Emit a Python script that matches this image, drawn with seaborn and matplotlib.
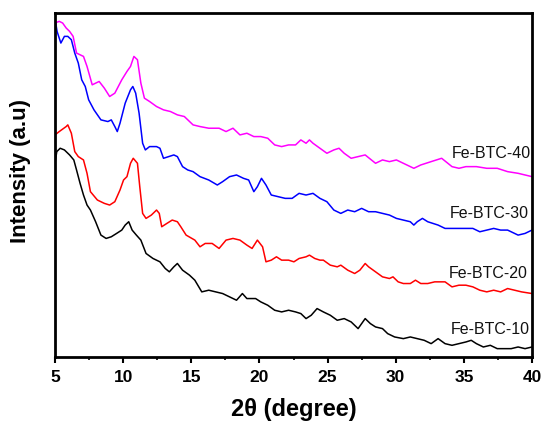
import matplotlib
matplotlib.use("Agg")
import matplotlib.pyplot as plt
import seaborn as sns
import pandas as pd
from matplotlib.ticker import MultipleLocator

# ---- data (arbitrary intensity units) ----
x40 = [5.00, 5.31, 5.56, 5.82, 6.07, 6.33, 6.58, 7.09, 7.35, 7.73, 8.24, 8.62, 9.01, 9.39, 9.90,
       10.28, 10.54, 10.79, 11.05, 11.30, 11.56, 11.94, 12.45, 12.96, 13.47, 13.98, 14.49, 15.13,
       15.64, 16.28, 17.04, 17.55, 18.06, 18.57, 19.08, 19.59, 20.10, 20.61, 21.12, 21.63, 22.14,
       22.65, 23.04, 23.42, 23.67, 23.93, 24.44, 24.95, 25.46, 25.84, 26.22, 26.73, 27.24, 27.76,
       28.52, 29.03, 29.54, 30.05, 30.56, 31.33, 31.84, 32.60, 33.37, 34.13, 34.64, 35.15, 35.92,
       36.68, 37.45, 38.21, 38.98, 40.00]
y40 = [1000, 1005, 1000, 985, 975, 960, 910, 900, 870, 815, 825, 805, 780, 790, 830,
       855, 870, 900, 890, 820, 775, 765, 750, 740, 735, 725, 720, 695,
       690, 685, 685, 675, 685, 665, 670, 660, 660, 655, 635, 630, 635,
       635, 650, 640, 650, 640, 625, 610, 620, 625, 610, 595, 600, 605,
       580, 590, 585, 590, 580, 565, 575, 585, 595, 570, 565, 570, 570,
       565, 565, 555, 550, 540]

x30 = [5.00, 5.15, 5.43, 5.69, 5.94, 6.20, 6.45, 6.71, 6.96, 7.22, 7.47, 7.86, 8.37, 8.88, 9.13,
       9.39, 9.57, 9.77, 10.15, 10.54, 10.71, 10.92, 11.17, 11.43, 11.63, 11.94, 12.45, 12.70,
       12.96, 13.34, 13.72, 13.98, 14.36, 14.74, 15.13, 15.64, 16.28, 16.91, 17.30, 17.81, 18.32,
       18.83, 19.21, 19.59, 19.85, 20.15, 20.48, 20.87, 21.38, 21.89, 22.40, 22.91, 23.42, 23.93,
       24.44, 24.95, 25.46, 25.97, 26.48, 26.99, 27.50, 28.01, 28.52, 29.03, 29.54, 30.05, 30.56,
       31.07, 31.33, 31.58, 31.96, 32.35, 33.11, 33.62, 34.13, 34.90, 35.66, 36.17, 36.68, 37.19,
       37.70, 38.21, 38.98, 39.49, 40.00]
y30 = [1015, 975, 940, 960, 960, 950, 910, 880, 830, 810, 770, 740, 710, 705, 710,
       690, 675, 700, 760, 800, 810, 790, 730, 640, 620, 630, 630, 625,
       595, 600, 605, 600, 570, 560, 555, 540, 530, 515, 525, 540, 545,
       535, 530, 495, 510, 535, 515, 485, 480, 475, 475, 490, 485, 490,
       475, 465, 440, 430, 440, 435, 445, 435, 435, 430, 425, 415, 410,
       405, 395, 405, 415, 405, 395, 385, 385, 385, 385, 375, 380, 385,
       380, 380, 365, 370, 380]

x20 = [5.00, 5.31, 5.82, 5.94, 6.20, 6.45, 6.71, 7.09, 7.35, 7.60, 8.11, 8.62, 9.01, 9.39, 9.77,
       10.03, 10.28, 10.54, 10.74, 11.05, 11.22, 11.43, 11.68, 12.07, 12.45, 12.65, 12.83, 13.21,
       13.60, 13.98, 14.23, 14.62, 15.26, 15.64, 16.02, 16.53, 17.04, 17.55, 18.06, 18.57, 19.08,
       19.46, 19.85, 20.23, 20.48, 20.87, 21.25, 21.63, 22.14, 22.53, 22.91, 23.42, 23.67, 24.06,
       24.44, 24.69, 25.20, 25.71, 25.97, 26.48, 26.99, 27.37, 27.76, 28.01, 28.52, 29.03, 29.54,
       29.80, 30.18, 30.56, 31.07, 31.45, 31.84, 32.35, 32.86, 33.62, 34.13, 34.64, 35.15, 35.66,
       36.17, 36.68, 37.19, 37.70, 38.21, 38.72, 39.23, 40.00]
y20 = [665, 675, 690, 695, 670, 615, 600, 590, 550, 495, 470, 460, 455, 465, 500,
       530, 540, 580, 595, 580, 510, 430, 415, 425, 440, 430, 390, 400,
       410, 405, 390, 365, 350, 330, 340, 340, 325, 350, 355, 350, 335,
       325, 350, 330, 285, 290, 300, 290, 290, 285, 295, 300, 305, 295,
       290, 290, 275, 270, 275, 260, 250, 260, 280, 270, 255, 240, 235,
       240, 225, 220, 220, 230, 220, 220, 225, 225, 210, 215, 215, 210,
       200, 195, 200, 195, 205, 200, 195, 190]

x10 = [5.00, 5.13, 5.38, 5.69, 6.07, 6.38, 6.58, 6.84, 7.09, 7.35, 7.60, 7.98, 8.37, 8.75, 9.13,
       9.52, 9.90, 10.15, 10.41, 10.66, 10.97, 11.30, 11.68, 12.19, 12.70, 13.09, 13.39, 13.72,
       13.98, 14.36, 14.87, 15.26, 15.77, 16.28, 16.79, 17.30, 17.81, 18.32, 18.75, 19.08, 19.72,
       20.10, 20.61, 21.12, 21.63, 22.14, 22.65, 23.04, 23.42, 23.80, 24.23, 24.69, 25.20, 25.71,
       26.22, 26.73, 27.24, 27.76, 28.14, 28.52, 29.03, 29.41, 29.92, 30.56, 31.07, 31.58, 32.09,
       32.60, 33.11, 33.62, 34.13, 34.64, 35.15, 35.54, 35.92, 36.43, 36.94, 37.45, 37.96, 38.47,
       38.98, 39.49, 40.00]
y10 = [580, 615, 625, 620, 605, 590, 560, 520, 485, 455, 440, 405, 365, 355, 360,
       370, 380, 395, 405, 380, 365, 350, 310, 295, 285, 265, 255, 270,
       280, 260, 245, 230, 195, 200, 195, 190, 180, 170, 190, 175, 175,
       165, 155, 140, 135, 140, 135, 130, 115, 125, 145, 135, 125, 110,
       115, 105, 85, 115, 100, 90, 85, 70, 60, 55, 60, 55, 50,
       40, 55, 40, 35, 40, 45, 50, 40, 30, 35, 25, 25, 25,
       30, 25, 30]

series_names = ["Fe-BTC-10", "Fe-BTC-20", "Fe-BTC-30", "Fe-BTC-40"]
series_x = [x10, x20, x30, x40]
series_y = [y10, y20, y30, y40]
series_colors = ["#000000", "#FF0000", "#0000FF", "#FF00FF"]
label_x = [39.85, 39.7, 39.75, 39.95]
label_y = [83, 250, 430, 610]
xticks = [5, 10, 15, 20, 25, 30, 35, 40]

frames = []
for n, xs, ys in zip(series_names, series_x, series_y):
    frames.append(pd.DataFrame({"2theta": xs, "I": ys, "sample": n}))
df = pd.concat(frames, ignore_index=True)

sns.set_style("white")
plt.rcParams["font.family"] = ["Liberation Sans", "DejaVu Sans"]
plt.rcParams["text.color"] = "black"
plt.rcParams["axes.labelcolor"] = "black"
plt.rcParams["xtick.color"] = "black"

fig = plt.figure(figsize=(5.47, 4.24), dpi=100)
ax = fig.add_axes([55 / 547, 1 - 357 / 424, (532 - 55) / 547, (357 - 13) / 424])

sns.lineplot(data=df, x="2theta", y="I", hue="sample", hue_order=series_names,
             palette=series_colors, linewidth=1.1, legend=False, ax=ax, sort=False,
             estimator=None)

for n, xl, yl in zip(series_names, label_x, label_y):
    ax.text(xl, yl, n, ha="right", va="center", fontsize=11.5, color="#111111")

ax.set_xlim(5, 40)
ax.set_ylim(0, 1030)
ax.set_xticks(xticks)
ax.set_xticklabels([str(t) for t in xticks], fontweight="bold", fontsize=12.5)
ax.xaxis.set_minor_locator(MultipleLocator(2.5))
ax.set_yticks([])
ax.tick_params(axis="x", which="major", direction="out", length=4, width=1.5, pad=5.5,
               bottom=True, colors="black")
ax.tick_params(axis="x", which="minor", direction="out", length=2.5, width=1.2, bottom=True)
for s in ax.spines.values():
    s.set_linewidth(2.0)
    s.set_color("black")
    s.set_visible(True)

ax.set_xlabel("2θ (degree)", fontsize=17, fontweight="bold")
ax.set_ylabel("Intensity (a.u)", fontsize=16, fontweight="bold")
ax.xaxis.set_label_coords(0.5, -0.118)
ax.yaxis.set_label_coords(-0.05, 0.54)

fig.savefig("out.png", dpi=100)
